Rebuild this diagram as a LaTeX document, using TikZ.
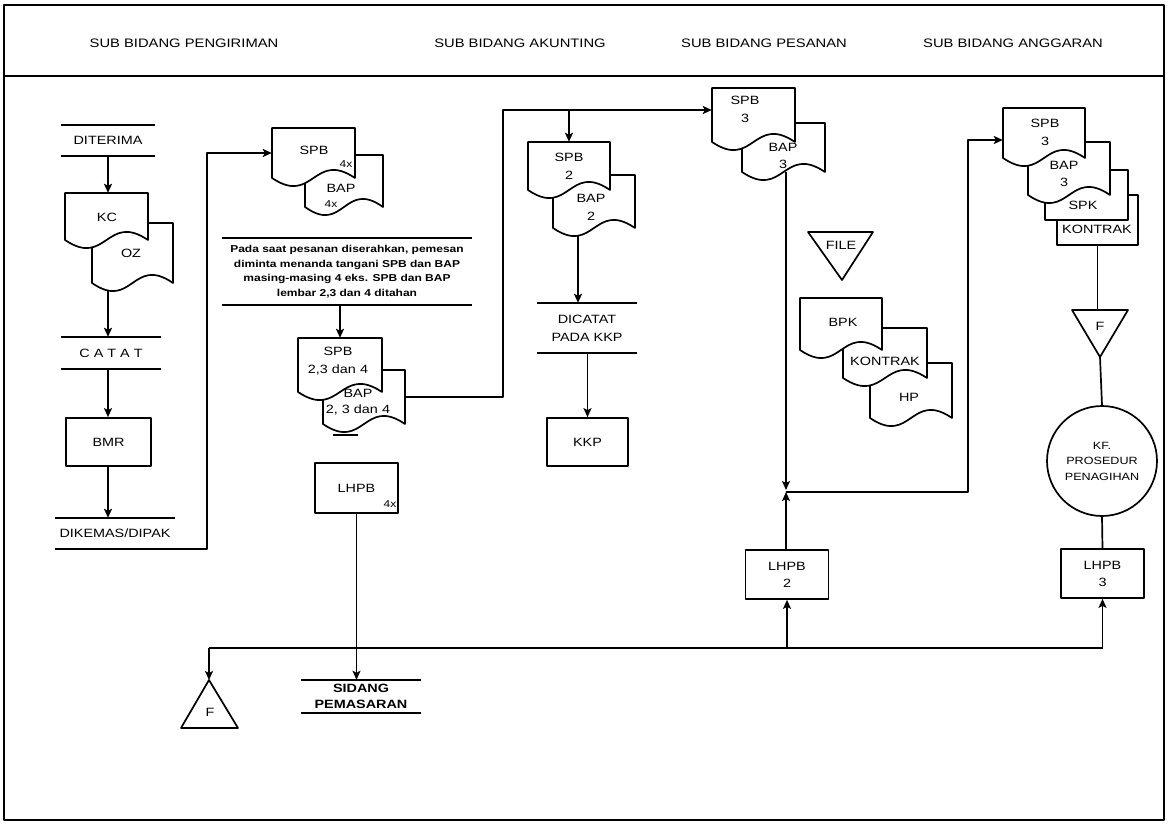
\documentclass[tikz,border=0pt]{standalone}
\usepackage{fontspec}
\setmainfont{Liberation Sans}[FakeStretch=1.2]
\usetikzlibrary{arrows.meta,backgrounds,calc}
\tikzset{
  ln/.style={line width=1.7pt, line join=round},
  arr/.style={ln, -{Stealth[length=9pt,width=8pt,inset=2pt]}},
  lbl/.style={inner sep=0pt, align=center, font=\fontsize{12}{18}\selectfont},
  small/.style={inner sep=0pt, font=\fontsize{10}{12}\selectfont},
  hdr/.style={inner sep=0pt, font=\fontsize{12.3}{14}\selectfont},
  io/.style={inner sep=0pt, align=center, font=\fontsize{12}{18}\selectfont},
  boxnode/.style={draw, ln, fill=white, inner sep=0pt, align=center, font=\fontsize{12}{17}\selectfont},
}
\newcommand\docshp[5]{%
  \filldraw[ln,fill=white] (#2,#3) -- (#4,#3) -- (#4,#5)
    .. controls ({(#2+#4)/2},{#5-28}) and ({(#2+#4)/2},{#5+28}) .. (#2,#5) -- cycle;
  \node[inner sep=0pt, minimum width={(#4-#2)*1pt}, minimum height={(#5-#3)*1pt}] (#1) at ({(#2+#4)/2},{(#3+#5)/2}) {};
}
\begin{document}
\begin{tikzpicture}[x=1pt,y=-1pt]
\useasboundingbox (0,0) rectangle (1168,824);
\draw[ln] (4,5) rectangle (1164,820);
\draw[ln] (4,76) -- (1164,76);
\node[hdr] (h1) at (184,43) {SUB BIDANG PENGIRIMAN};
\node[hdr] (h2) at (520,43) {SUB BIDANG AKUNTING};
\node[hdr] (h3) at (764,43) {SUB BIDANG PESANAN};
\node[hdr] (h4) at (1013,43) {SUB BIDANG ANGGARAN};

% ---------- Pengiriman ----------
\node[io, minimum width=94pt, minimum height=31pt] (diterima) at (108,140.5) {DITERIMA};
\draw[ln] (diterima.north west) -- (diterima.north east) (diterima.south west) -- (diterima.south east);
\docshp{oz}{92}{223}{173}{283}
\docshp{kc}{65}{193}{148}{240}
\node[lbl] (tkc) at (107,217) {KC};
\node[lbl] (toz) at (131,253) {OZ};
\node[io, minimum width=99pt, minimum height=32pt] (catat) at (111,353) {C A T A T};
\draw[ln] (catat.north west) -- (catat.north east) (catat.south west) -- (catat.south east);
\node[boxnode, minimum width=85pt, minimum height=48pt] (bmr) at (108.5,442) {BMR};
\node[io, minimum width=120pt, minimum height=31pt] (dikemas) at (115,533.5) {DIKEMAS/DIPAK};
\draw[ln] (dikemas.north west) -- (dikemas.north east);

\docshp{bapq}{305}{155}{383}{207}
\docshp{spbq}{272}{128}{355}{178}
\node[lbl] (tspbq) at (314,150) {SPB};
\node[small] (tspbq4) at (346,164) {4x};
\node[lbl] (tbapq) at (341,188) {BAP};
\node[small] (tbapq4) at (331,204) {4x};

\node[inner sep=0pt, minimum width=250pt, minimum height=67pt, align=center,
      font=\bfseries\fontsize{10}{14.7}\selectfont] (note) at (347,271.5)
  {Pada saat pesanan diserahkan, pemesan\\diminta menanda tangani SPB dan BAP\\masing-masing 4 eks. SPB dan BAP\\lembar 2,3 dan 4 ditahan};
\draw[ln] (note.north west) -- (note.north east) (note.south west) -- (note.south east);

\docshp{bapt}{323}{370}{405}{424}
\docshp{spbt}{298}{338}{382}{392}
\node[lbl, font=\fontsize{12}{18}\selectfont] (tspbt) at (338,361) {SPB\\2,3 dan 4};
\node[lbl, font=\fontsize{12}{16}\selectfont] (tbapt) at (358,402) {BAP\\2, 3 dan 4};
\draw[ln] (333,435) -- (358,435);

\node[boxnode, minimum width=83pt, minimum height=50pt] (lhpbq) at (356.5,488) {LHPB};
\node[small] (tlhpbq) at (390,504) {4x};

\coordinate (fapex) at (209,680);
\draw[ln] (fapex) -- (238,728) -- (181,728) -- cycle;
\node[lbl] (tf1) at (210,712) {F};

\node[io, minimum width=119pt, minimum height=33pt, font=\bfseries\fontsize{12}{16}\selectfont] (sidang) at (361,696.5) {SIDANG\\PEMASARAN};
\draw[ln] (sidang.north west) -- (sidang.north east) (sidang.south west) -- (sidang.south east);

% ---------- Akunting ----------
\docshp{bapd}{553}{175}{635}{228}
\docshp{spbd}{528}{142}{610}{190}
\node[lbl] (tspbd) at (569,166) {SPB\\2};
\node[lbl] (tbapd) at (591,207) {BAP\\2};
\node[io, minimum width=100pt, minimum height=50pt] (dicatat) at (587,328) {DICATAT\\PADA KKP};
\draw[ln] (dicatat.north west) -- (dicatat.north east) (dicatat.south west) -- (dicatat.south east);
\node[boxnode, minimum width=81pt, minimum height=48pt] (kkp) at (587.5,442) {KKP};

% ---------- Pesanan ----------
\docshp{bapp}{742}{123}{825}{172}
\docshp{spbp}{712}{88}{795}{142}
\node[lbl] (tspbp) at (745,109) {SPB\\3};
\node[lbl, font=\fontsize{12}{17}\selectfont] (tbapp) at (783,156) {BAP\\3};
\draw[ln] (808,232) -- (873,232) -- (842,280) -- cycle;
\node[lbl] (tfile) at (841,245) {FILE};
\docshp{hp}{870}{363}{952}{418}
\docshp{kontrakp}{843}{328}{927}{378}
\docshp{bpk}{800}{298}{882}{350}
\node[lbl] (tbpk) at (843,322) {BPK};
\node[lbl] (tkontrakp) at (885,361) {KONTRAK};
\node[lbl] (thp) at (909,397) {HP};
\node[boxnode, minimum width=83pt, minimum height=49pt] (lhpbb) at (787,574.5) {LHPB\\2};

% ---------- Anggaran ----------
\node[boxnode, minimum width=81pt, minimum height=50pt] (kontrakr) at (1097.5,220) {};
\node[boxnode, minimum width=83pt, minimum height=50pt] (spk) at (1086.5,195) {};
\docshp{bapr}{1028}{142}{1110}{195}
\docshp{spbr}{1003}{108}{1085}{158}
\node[lbl] (tspbr) at (1045,132) {SPB\\3};
\node[lbl, font=\fontsize{12}{17}\selectfont] (tbapr) at (1064,174) {BAP\\3};
\node[lbl] (tspk) at (1083,205) {SPK};
\node[lbl] (tkontrakr) at (1097,229) {KONTRAK};
\coordinate (f2top) at (1100,310);
\coordinate (f2tip) at (1100,357);
\draw[ln] (1072,310) -- (1128,310) -- (f2tip) -- cycle;
\node[lbl] (tf2) at (1100,326) {F};
\node[draw, ln, circle, minimum size=110pt, inner sep=0pt, align=center,
      font=\fontsize{10.5}{15.5}\selectfont] (kf) at (1102,461) {KF.\\PROSEDUR\\PENAGIHAN};
\node[boxnode, minimum width=83pt, minimum height=49pt] (lhpbc) at (1102.5,573.5) {LHPB\\3};

% ---------- connectors ----------
\begin{pgfonlayer}{background}
\coordinate (lc) at (108,0);
\draw[arr] (diterima.south -| lc) -- (lc |- kc.north);
\draw[arr] (oz.south -| lc) -- (lc |- catat.north);
\draw[arr] (catat.south -| lc) -- (lc |- bmr.north);
\draw[arr] (bmr.south -| lc) -- (lc |- dikemas.north);
\coordinate (vc) at (207,0);
\draw[arr] (dikemas.south west) -- (dikemas.south -| vc) -- (vc |- spbq.west) -- (spbq.west);
\draw[arr] (note.south -| spbt.north) -- (spbt.north);
\coordinate (tl) at (503,110);
\draw[arr] (bapt.east) -| (tl) -- (tl -| spbp.west);
\draw[arr] (tl -| spbd.north) -- (spbd.north);
\coordinate (dc) at (578,0);
\draw[arr] (bapd.south -| dc) -- (dc |- dicatat.north);
\draw[arr] (dicatat.south -| kkp.north) -- (kkp.north);
\coordinate (jn) at (786,492);
\draw[arr] (bapp.south -| jn) -- ($(jn)+(0,-2)$);
\draw[arr] (lhpbb.north -| jn) -- (jn);
\coordinate (rt) at (968,140);
\draw[arr] (jn) -| (rt) -- (rt -| spbr.west);
\draw[ln] (kontrakr.south) -- (kontrakr.south |- f2top);
\draw[ln] (f2tip) -- (kf.north);
\draw[ln] (kf.south) -- (lhpbc.north);
\coordinate (hl) at (209,648);
\draw[ln] (hl) -- (hl -| lhpbc.south);
\draw[arr] (hl) -- (fapex);
\draw[arr] (hl -| lhpbb.south) -- (lhpbb.south);
\draw[arr] (hl -| lhpbc.south) -- (lhpbc.south);
\draw[arr] (lhpbq.south) -- (lhpbq.south |- sidang.north);
\end{pgfonlayer}
\end{tikzpicture}
\end{document}
